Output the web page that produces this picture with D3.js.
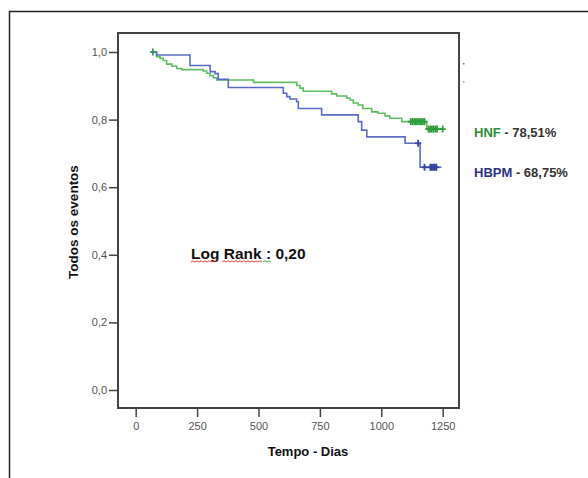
<!doctype html>
<html lang="pt">
  <head>
    <meta charset="UTF-8" />
    <title>Todos os eventos - Kaplan-Meier</title>
    <script src="https://d3js.org/d3.v7.min.js"></script>
    <style>
      body {
        margin: 0;
        padding: 0;
        background: #ffffff;
        font-family: 'Liberation Sans', Arial, sans-serif;
      }
      .tick-label {
        font-size: 11px;
        fill: #555555;
      }
      .axis-title {
        font-size: 13px;
        font-weight: bold;
        fill: #111111;
      }
      .legend {
        font-size: 13px;
        font-weight: bold;
      }
    </style>
  </head>
  <body>
    <div id="chart"></div>
    <script>
      // Axis ticks
      const xTicks = [0, 250, 500, 750, 1000, 1250]
      const yTicks = [0, 0.2, 0.4, 0.6, 0.8, 1.0]

      // HNF (green) step curve: times and survival after each step
      const hnfTimes = [70, 85, 99, 112, 126, 147, 167, 187, 275, 289, 303, 316, 330, 479, 656, 669, 682, 798, 818, 859, 873, 886, 906, 925, 961, 987, 1015, 1035, 1083, 1185, 1251]
      const hnfSurv = [1.0, 0.986, 0.981, 0.975, 0.964, 0.958, 0.951, 0.948, 0.944, 0.937, 0.93, 0.924, 0.917, 0.91, 0.901, 0.893, 0.884, 0.876, 0.87, 0.863, 0.858, 0.849, 0.843, 0.833, 0.823, 0.819, 0.811, 0.804, 0.794, 0.772, 0.772]
      const hnfCensorTimes = [70, 1120, 1127, 1134, 1141, 1148, 1155, 1162, 1169, 1176, 1192, 1199, 1206, 1213, 1220, 1227, 1250]
      const hnfCensorSurv = [1.0, 0.794, 0.794, 0.794, 0.794, 0.794, 0.794, 0.794, 0.794, 0.794, 0.772, 0.772, 0.772, 0.772, 0.772, 0.772, 0.772]

      // HBPM (blue) step curve
      const hbpmTimes = [70, 85, 221, 303, 323, 336, 377, 601, 615, 628, 655, 662, 757, 906, 920, 941, 1097, 1158, 1245]
      const hbpmSurv = [1.0, 0.991, 0.96, 0.942, 0.936, 0.919, 0.895, 0.878, 0.868, 0.861, 0.853, 0.833, 0.814, 0.794, 0.769, 0.749, 0.73, 0.659, 0.659]
      const hbpmCensorTimes = [1150, 1176, 1200, 1206, 1212, 1218, 1224]
      const hbpmCensorSurv = [0.73, 0.659, 0.659, 0.659, 0.659, 0.659, 0.659]

      const groups = [
        { name: 'HNF', pct: '78,51%', times: hnfTimes, surv: hnfSurv, ct: hnfCensorTimes, cs: hnfCensorSurv, line: '#62bd62', mark: '#2f9e3b', text: '#2e8f3a' },
        { name: 'HBPM', pct: '68,75%', times: hbpmTimes, surv: hbpmSurv, ct: hbpmCensorTimes, cs: hbpmCensorSurv, line: '#5a6cc6', mark: '#3343a8', text: '#2f2f8c' },
      ]

      const W = 588
      const H = 478
      const box = { left: 118, right: 459, top: 33, bottom: 408 }

      const svg = d3.select('#chart').append('svg').attr('width', W).attr('height', H)

      // outer frame (open on right/bottom edge)
      svg
        .append('path')
        .attr('d', `M9.5,${H} L9.5,11.5 L${W},11.5`)
        .attr('fill', 'none')
        .attr('stroke', '#222')
        .attr('stroke-width', 1.5)

      const x = d3.scaleLinear().domain([0, 1250]).range([135.7, 442.7])
      const y = d3.scaleLinear().domain([0, 1]).range([390, 52])

      // plot box
      svg
        .append('rect')
        .attr('x', box.left)
        .attr('y', box.top)
        .attr('width', box.right - box.left)
        .attr('height', box.bottom - box.top)
        .attr('fill', 'none')
        .attr('stroke', '#444')
        .attr('stroke-width', 2)

      // y axis
      const yAxis = svg
        .append('g')
        .attr('transform', `translate(${box.left - 1},0)`)
        .call(d3.axisLeft(y).tickValues(yTicks).tickSize(8).tickPadding(2).tickFormat((d) => d3.format('.1f')(d).replace('.', ',')))
      yAxis.select('.domain').remove()
      yAxis.selectAll('.tick line').attr('stroke', '#444').attr('stroke-width', 1.5)
      yAxis.selectAll('.tick text').attr('class', 'tick-label').attr('font-family', null).attr('font-size', null).attr('fill', null)

      // x axis
      const xAxis = svg
        .append('g')
        .attr('transform', `translate(0,${box.bottom + 1})`)
        .call(d3.axisBottom(x).tickValues(xTicks).tickSize(8).tickPadding(5).tickFormat(d3.format('d')))
      xAxis.select('.domain').remove()
      xAxis.selectAll('.tick line').attr('stroke', '#444').attr('stroke-width', 1.5)
      xAxis.selectAll('.tick text').attr('class', 'tick-label').attr('font-family', null).attr('font-size', null).attr('fill', null)

      // axis titles
      svg
        .append('text')
        .attr('class', 'axis-title')
        .attr('x', 308)
        .attr('y', 456)
        .attr('text-anchor', 'middle')
        .text('Tempo - Dias')

      svg
        .append('text')
        .attr('class', 'axis-title')
        .attr('transform', 'translate(78,222) rotate(-90)')
        .attr('text-anchor', 'middle')
        .style('font-size', '13.5px')
        .text('Todos os eventos')

      // curves
      const stepLine = d3
        .line()
        .x((d) => x(d[0]))
        .y((d) => y(d[1]))
        .curve(d3.curveStepAfter)

      groups.forEach((g) => {
        const pts = g.times.map((t, i) => [t, g.surv[i]])
        svg
          .append('path')
          .attr('d', stepLine(pts))
          .attr('fill', 'none')
          .attr('stroke', g.line)
          .attr('stroke-width', 1.6)

        g.ct.forEach((t, i) => {
          const cx = x(t)
          const cy = y(g.cs[i])
          svg
            .append('line')
            .attr('x1', cx)
            .attr('x2', cx)
            .attr('y1', cy - 3.5)
            .attr('y2', cy + 3.5)
            .attr('stroke', g.mark)
            .attr('stroke-width', 1.8)
          svg
            .append('line')
            .attr('x1', cx - 3)
            .attr('x2', cx + 3)
            .attr('y1', cy)
            .attr('y2', cy)
            .attr('stroke', g.mark)
            .attr('stroke-width', 1.8)
        })
      })

      // tiny legend remnants to the right of the box
      svg.append('rect').attr('x', 463).attr('y', 63).attr('width', 1.5).attr('height', 1.5).attr('fill', '#5a6cc6')
      svg.append('rect').attr('x', 463).attr('y', 81).attr('width', 1.5).attr('height', 1.5).attr('fill', '#62bd62')

      // legend labels
      const legY = [137, 177]
      groups.forEach((g, i) => {
        const t = svg.append('text').attr('class', 'legend').attr('x', 474).attr('y', legY[i])
        t.append('tspan').attr('fill', g.text).text(g.name)
        t.append('tspan').attr('fill', '#333').text(' - ' + g.pct)
      })

      // Log Rank annotation
      svg
        .append('text')
        .attr('x', 191)
        .attr('y', 259)
        .attr('font-size', '15.5px')
        .attr('font-weight', 'bold')
        .attr('fill', '#111')
        .text('Log Rank : 0,20')

      // spell-check squiggles under the words
      const squiggle = (x0, x1, yy) => {
        let d = `M${x0},${yy}`
        let up = true
        for (let xx = x0 + 2; xx <= x1; xx += 2) {
          d += ` L${xx},${yy + (up ? -1.2 : 0)}`
          up = !up
        }
        return d
      }
      svg.append('path').attr('d', squiggle(191, 217, 262)).attr('fill', 'none').attr('stroke', '#e03030').attr('stroke-width', 0.9)
      svg.append('path').attr('d', squiggle(222, 263, 262)).attr('fill', 'none').attr('stroke', '#e03030').attr('stroke-width', 0.9)
      svg.append('path').attr('d', squiggle(263, 271, 262)).attr('fill', 'none').attr('stroke', '#40a040').attr('stroke-width', 0.9)
    </script>
  </body>
</html>
